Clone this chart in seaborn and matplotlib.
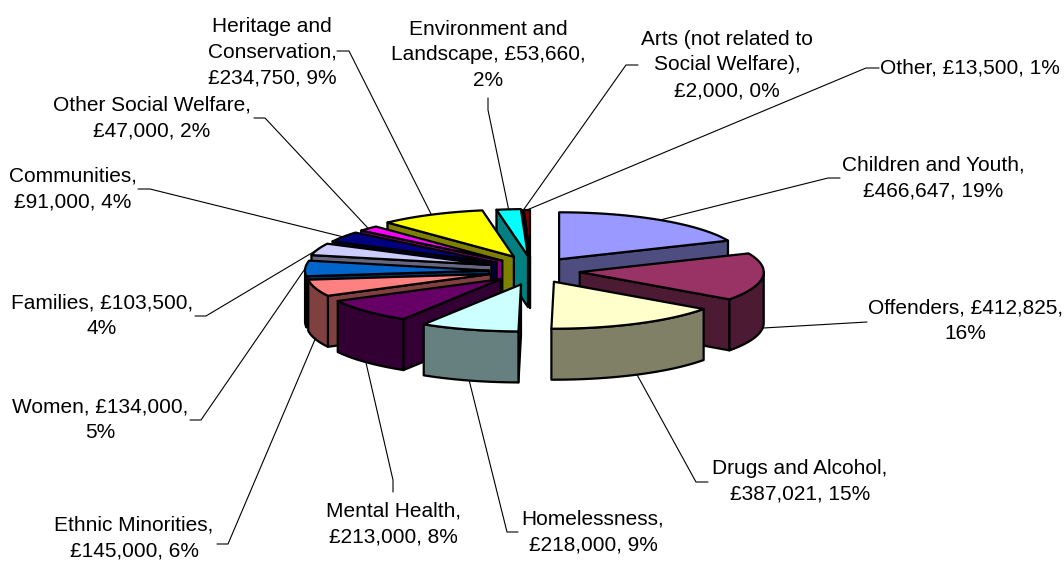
import numpy as np
import matplotlib
matplotlib.use("Agg")
import matplotlib.pyplot as plt
import seaborn as sns

categories = ["Children and Youth", "Offenders", "Drugs and Alcohol", "Homelessness",
              "Mental Health", "Ethnic Minorities", "Women", "Families", "Communities",
              "Other Social Welfare", "Heritage and Conservation", "Environment and Landscape",
              "Arts (not related to Social Welfare)", "Other"]
amounts = [466647, 412825, 387021, 218000, 213000, 145000, 134000, 103500, 91000,
           47000, 234750, 53660, 2000, 13500]
top_hex = ["#9999FF", "#993366", "#FFFFCC", "#CCFFFF", "#660066", "#FF8080", "#0066CC",
           "#CCCCFF", "#000080", "#FF00FF", "#FFFF00", "#00FFFF", "#800080", "#800000"]

# label text as it wraps in the picture
label_text = ["Children and Youth,\n£466,647, 19%", "Offenders, £412,825,\n16%",
              "Drugs and Alcohol,\n£387,021, 15%", "Homelessness,\n£218,000, 9%",
              "Mental Health,\n£213,000, 8%", "Ethnic Minorities,\n£145,000, 6%",
              "Women, £134,000,\n5%", "Families, £103,500,\n4%", "Communities,\n£91,000, 4%",
              "Other Social Welfare,\n£47,000, 2%", "Heritage and\nConservation,\n£234,750, 9%",
              "Environment and\nLandscape, £53,660,\n2%",
              "Arts (not related to\nSocial Welfare),\n£2,000, 0%", "Other, £13,500, 1%"]

# layout, in picture pixels
cx, cy = 530, 271
rx, ry = 184, 47
depth = 51
explode_h = [53, 50, 53, 32, 40, 41, 41, 41, 40, 38, 36, 19, 0, 0]
explode_v = [14, 10, 12, 14, 12, 10, 10, 18, 15, 15, 16, 15, 14, 14]
label_xy = [(933, 178), (965, 321), (800, 481), (593, 532), (393, 524), (134, 538),
            (100, 420), (102, 316), (73, 189), (152, 118), (272, 52), (488, 55),
            (727, 65), (970, 68)]
elbows = [[(828, 178), (840, 178)], [(850, 323), (867, 322)], [(696, 482), (708, 482)],
          [(507, 532), (518, 532)], [(393, 480), (393, 492)], [(228, 544), (217, 544)],
          [(201, 420), (190, 420)], [(206, 316), (195, 316)], [(150, 189), (138, 189)],
          [(265, 118), (254, 118)], [(349, 51), (337, 51)], [(488, 110), (488, 98)],
          [(626, 65), (638, 65)], [(866, 68), (879, 68)]]

sns.set_theme(style="white")
plt.rcParams["font.family"] = ["Liberation Sans", "DejaVu Sans"]

fig, ax = plt.subplots(figsize=(10.64, 5.62), dpi=100)
ax.set_position([0, 0, 1, 1])
ax.set_xlim(0, 1064)
ax.set_ylim(562, 0)
ax.axis("off")

tops = sns.color_palette(top_hex)
walls = [tuple(c * 0.5 for c in col) for col in tops]

shares = np.array(amounts) / sum(amounts)
ends = np.cumsum(shares) * 360
starts = ends - shares * 360
mids = (starts + ends) / 2


def rim(apex, ang):
    a = np.radians(ang)
    return np.column_stack([apex[0] + rx * np.sin(a), apex[1] - ry * np.cos(a)])


def apex_of(i):
    a = np.radians(mids[i])
    return (cx + explode_h[i] * np.sin(a), cy - explode_v[i] * np.cos(a))


def face(pts, color):
    ax.fill(pts[:, 0], pts[:, 1], facecolor=color, edgecolor="black", linewidth=1.6,
            joinstyle="round", zorder=3)


# leaders go under the pie
for i in range(len(amounts)):
    apex = apex_of(i)
    p = rim(apex, mids[i])[0]
    if np.cos(np.radians(mids[i])) < 0:
        p = p + [0, depth]
    xs = [p[0], elbows[i][0][0], elbows[i][1][0]]
    ys = [p[1], elbows[i][0][1], elbows[i][1][1]]
    sns.lineplot(x=xs, y=ys, sort=False, estimator=None, color="black", linewidth=0.8,
                 ax=ax, legend=False, zorder=1)
    ax.text(label_xy[i][0], label_xy[i][1], label_text[i], ha="center", va="center",
            fontsize=15, color="black", linespacing=1.45, zorder=5)

# painter order: back slices first
for i in np.argsort(-np.cos(np.radians(mids))):
    apex = np.array(apex_of(i))
    drop = np.array([0, depth])
    t1, t2 = starts[i], ends[i]
    # radial walls
    if np.sin(np.radians(t1)) < 0:
        e = rim(apex, t1)[0]
        face(np.array([apex, e, e + drop, apex + drop]), walls[i])
    if np.sin(np.radians(t2)) > 0:
        e = rim(apex, t2)[0]
        face(np.array([apex, e, e + drop, apex + drop]), walls[i])
    # outer wall, front half of the rim only
    lo, hi = max(t1, 90), min(t2, 270)
    if hi > lo:
        arc = rim(apex, np.linspace(lo, hi, 40))
        face(np.vstack([arc, arc[::-1] + drop]), walls[i])
    # top
    arc = rim(apex, np.linspace(t1, t2, 40))
    face(np.vstack([apex, arc]), tops[i])

fig.savefig("out.png", dpi=100)
